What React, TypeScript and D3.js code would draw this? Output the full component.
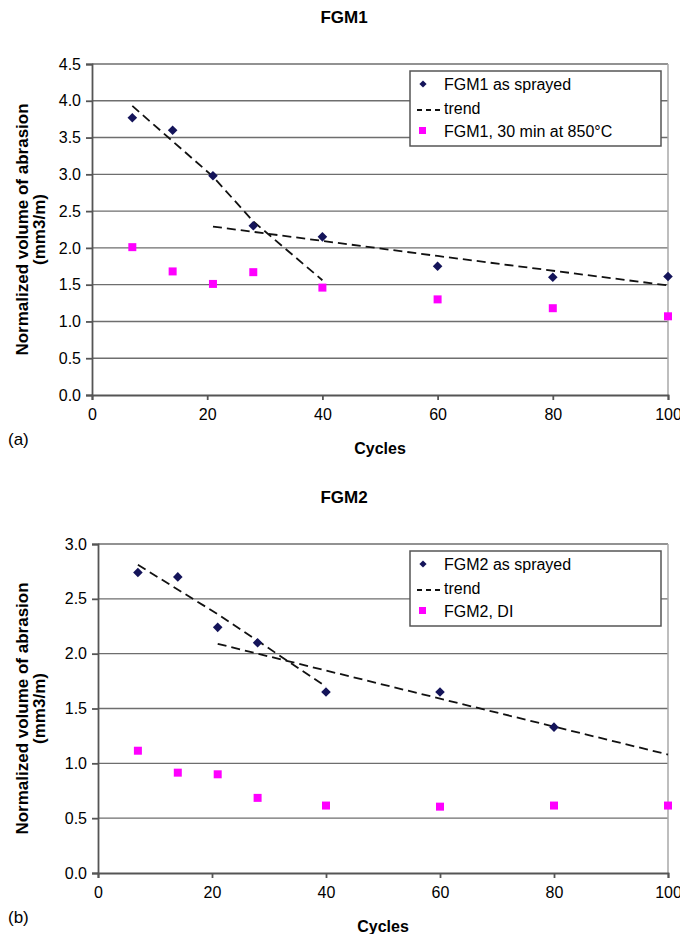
import { useEffect, useRef } from 'react';
import * as d3 from 'd3';

// shared x values (cycles)
const cycles = [7, 14, 21, 28, 40, 60, 80, 100];
const xTicks = [0, 20, 40, 60, 80, 100];

// panel (a) FGM1
const fgm1Sprayed = [3.77, 3.6, 2.98, 2.3, 2.15, 1.75, 1.6, 1.61];
const fgm1Heated = [2.01, 1.68, 1.51, 1.67, 1.46, 1.3, 1.18, 1.07];
const fgm1TrendEarlyX = [7, 21, 28, 40];
const fgm1TrendEarlyY = [3.93, 2.97, 2.36, 1.56];
const fgm1TrendLateX = [21, 60, 100];
const fgm1TrendLateY = [2.29, 1.89, 1.49];
const fgm1YTicks = [0, 0.5, 1, 1.5, 2, 2.5, 3, 3.5, 4, 4.5];

// panel (b) FGM2
const fgm2Cycles = [7, 14, 21, 28, 40, 60, 80];
const fgm2Sprayed = [2.74, 2.7, 2.24, 2.1, 1.65, 1.65, 1.33];
const fgm2DI = [1.115, 0.915, 0.9, 0.685, 0.615, 0.605, 0.615, 0.615];
const fgm2TrendEarlyX = [7, 21, 40];
const fgm2TrendEarlyY = [2.81, 2.36, 1.7];
const fgm2TrendLateX = [21, 60, 100];
const fgm2TrendLateY = [2.09, 1.59, 1.08];
const fgm2YTicks = [0, 0.5, 1, 1.5, 2, 2.5, 3];

const NAVY = '#14145a';
const MAGENTA = '#ff00ff';
const FONT = '"Liberation Sans", Arial, sans-serif';

type PanelCfg = {
  title: string;
  tag: string;
  box: { left: number; right: number; top: number; bottom: number };
  yTicks: number[];
  sprayedX: number[];
  sprayedY: number[];
  treatedY: number[];
  trends: [number[], number[]][];
  legend: string[];
};

const panels: PanelCfg[] = [
  {
    title: 'FGM1',
    tag: '(a)',
    box: { left: 92, right: 668, top: 64, bottom: 395 },
    yTicks: fgm1YTicks,
    sprayedX: cycles,
    sprayedY: fgm1Sprayed,
    treatedY: fgm1Heated,
    trends: [[fgm1TrendEarlyX, fgm1TrendEarlyY], [fgm1TrendLateX, fgm1TrendLateY]],
    legend: ['FGM1 as sprayed', 'trend', 'FGM1, 30 min at 850\u00b0C'],
  },
  {
    title: 'FGM2',
    tag: '(b)',
    box: { left: 98, right: 668, top: 544, bottom: 873 },
    yTicks: fgm2YTicks,
    sprayedX: fgm2Cycles,
    sprayedY: fgm2Sprayed,
    treatedY: fgm2DI,
    trends: [[fgm2TrendEarlyX, fgm2TrendEarlyY], [fgm2TrendLateX, fgm2TrendLateY]],
    legend: ['FGM2 as sprayed', 'trend', 'FGM2, DI'],
  },
];

function drawPanel(svg: d3.Selection<SVGSVGElement, unknown, null, undefined>, p: PanelCfg) {
  const { left, right, top, bottom } = p.box;
  const g = svg.append('g');

  const x = d3.scaleLinear().domain([0, 100]).range([left, right]);
  const y = d3.scaleLinear().domain([0, d3.max(p.yTicks) as number]).range([bottom, top]);

  // gridlines
  g.selectAll('.grid')
    .data(p.yTicks.filter(t => t > 0))
    .enter()
    .append('line')
    .attr('x1', left)
    .attr('x2', right)
    .attr('y1', d => y(d))
    .attr('y2', d => y(d))
    .attr('stroke', '#6e6e6e')
    .attr('stroke-width', 1.4);

  // right border of plot area
  g.append('line')
    .attr('x1', right).attr('x2', right)
    .attr('y1', top).attr('y2', bottom)
    .attr('stroke', '#a8a8a8').attr('stroke-width', 1.5);

  // y axis
  const yAxis = d3.axisLeft(y).tickValues(p.yTicks).tickFormat(d3.format('.1f')).tickSizeOuter(0).tickSize(6).tickPadding(5);
  const ya = g.append('g').attr('transform', `translate(${left},0)`).call(yAxis);
  ya.selectAll('text').style('font-family', FONT).style('font-size', '16px').attr('fill', '#000');
  ya.selectAll('.domain, .tick line').attr('stroke', '#555').attr('stroke-width', 1.8);

  // x axis
  const xAxis = d3.axisBottom(x).tickValues(xTicks).tickSizeOuter(0).tickSize(5).tickPadding(9);
  const xa = g.append('g').attr('transform', `translate(0,${bottom})`).call(xAxis);
  xa.selectAll('text').style('font-family', FONT).style('font-size', '16px').attr('fill', '#000');
  xa.selectAll('.domain, .tick line').attr('stroke', '#555').attr('stroke-width', 1.8);

  // trend lines
  const line = d3.line<[number, number]>().x(d => x(d[0])).y(d => y(d[1]));
  p.trends.forEach(([tx, ty]) => {
    g.append('path')
      .datum(tx.map((v, i) => [v, ty[i]] as [number, number]))
      .attr('d', line)
      .attr('fill', 'none')
      .attr('stroke', '#111')
      .attr('stroke-width', 1.8)
      .attr('stroke-dasharray', '9,5');
  });

  const diamond = d3.symbol().type(d3.symbolSquare).size(46);
  const square = d3.symbol().type(d3.symbolSquare).size(64);

  g.selectAll('.treated')
    .data(p.treatedY)
    .enter()
    .append('path')
    .attr('d', square)
    .attr('transform', (d, i) => `translate(${x(cycles[i])},${y(d)})`)
    .attr('fill', MAGENTA);

  g.selectAll('.sprayed')
    .data(p.sprayedY)
    .enter()
    .append('path')
    .attr('d', diamond)
    .attr('transform', (d, i) => `translate(${x(p.sprayedX[i])},${y(d)}) rotate(45)`)
    .attr('fill', NAVY);

  // legend
  const lg = g.append('g').attr('transform', `translate(${right - 258},${top + 7})`);
  lg.append('rect')
    .attr('width', 251).attr('height', 75)
    .attr('fill', '#fff').attr('stroke', '#555').attr('stroke-width', 1.5);
  const rowY = [13, 37, 60];
  lg.append('path').attr('d', d3.symbol().type(d3.symbolSquare).size(26)())
    .attr('transform', `translate(13,${rowY[0]}) rotate(45)`).attr('fill', NAVY);
  lg.append('line').attr('x1', 7).attr('x2', 32).attr('y1', rowY[1] + 2).attr('y2', rowY[1] + 2)
    .attr('stroke', '#111').attr('stroke-width', 1.8).attr('stroke-dasharray', '5,4');
  lg.append('rect').attr('x', 9).attr('y', rowY[2] - 4).attr('width', 7).attr('height', 7).attr('fill', MAGENTA);
  lg.selectAll('.lt')
    .data(p.legend)
    .enter()
    .append('text')
    .attr('x', 34)
    .attr('y', (d, i) => rowY[i])
    .attr('dy', '0.35em')
    .style('font-family', FONT)
    .style('font-size', '16px')
    .text(d => d);

  // titles
  g.append('text')
    .attr('x', 344).attr('y', top - 47)
    .attr('text-anchor', 'middle').attr('dy', '0.35em')
    .style('font-family', FONT).style('font-size', '17px').style('font-weight', 'bold')
    .text(p.title);

  g.append('text')
    .attr('x', (left + right) / 2).attr('y', bottom + 53)
    .attr('text-anchor', 'middle').attr('dy', '0.35em')
    .style('font-family', FONT).style('font-size', '16px').style('font-weight', 'bold')
    .text('Cycles');

  g.append('text')
    .attr('x', 8).attr('y', bottom + 44)
    .attr('dy', '0.35em')
    .style('font-family', FONT).style('font-size', '17px')
    .text(p.tag);

  const cy = (top + bottom) / 2;
  const yt = g.append('text')
    .attr('transform', `translate(22,${cy}) rotate(-90)`)
    .attr('text-anchor', 'middle')
    .style('font-family', FONT).style('font-size', '17px').style('font-weight', 'bold');
  yt.append('tspan').attr('x', 0).attr('dy', '0.35em').text('Normalized volume of abrasion');
  yt.append('tspan').attr('x', 0).attr('dy', '1.0em').text('(mm3/m)');
}

export default function App() {
  const ref = useRef<SVGSVGElement>(null);

  useEffect(() => {
    if (!ref.current) return;
    const svg = d3.select(ref.current);
    svg.selectAll('*').remove();
    panels.forEach(p => drawPanel(svg, p));
  }, []);

  return (
    <svg
      ref={ref}
      width={680}
      height={934}
      style={{ position: 'absolute', left: 0, top: 0, background: '#fff' }}
    />
  );
}
